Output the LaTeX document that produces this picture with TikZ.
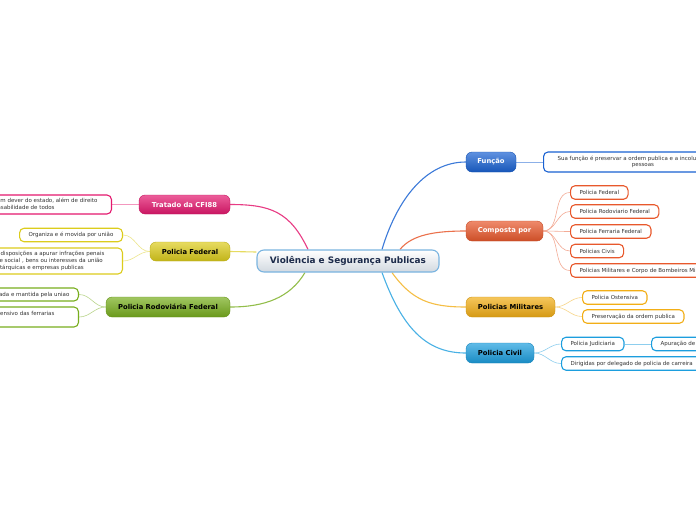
\documentclass[tikz,border=0pt]{standalone}
\usepackage{fontspec}
\setmainfont{DejaVu Sans}
\usetikzlibrary{backgrounds}
\definecolor{rootline}{HTML}{7AB4E0}
\definecolor{rootbot}{HTML}{D2D9E0}
\definecolor{roottext}{HTML}{1C2B4A}
\definecolor{fblue}{HTML}{1A62D2}
\definecolor{corange}{HTML}{E8582C}
\definecolor{mgold}{HTML}{F2AE16}
\definecolor{ccyan}{HTML}{1C9EDE}
\definecolor{tpink}{HTML}{E4186E}
\definecolor{pyellow}{HTML}{DCCC1C}
\definecolor{rgreen}{HTML}{78AE1E}
\definecolor{leaftext}{HTML}{333333}
\begin{document}
\begin{tikzpicture}[x=1pt,y=-1pt,
  rootbox/.style={rounded corners=7pt, draw=rootline, line width=1.1pt, top color=white, bottom color=rootbot,
    minimum width=182pt, minimum height=22pt, inner sep=0pt, text=roottext,
    font=\fontsize{8.9}{10}\selectfont\bfseries},
  branch/.style 2 args={rounded corners=6pt, draw=#1!85!black, line width=0.4pt,
    top color=#1!70!white, bottom color=#1!88!black, text=#2, minimum height=20pt, inner sep=0pt,
    font=\fontsize{6.8}{8}\selectfont\bfseries},
  leaf/.style={rounded corners=4.5pt, draw=#1, line width=1.1pt, fill=white, text=leaftext,
    font=\fontsize{5.5}{6.7}\selectfont, inner xsep=9pt, inner ysep=0pt, minimum height=13.5pt, align=center},
  mainconn/.style={draw=#1, line width=1.1pt},
  subconn/.style={draw=#1, line width=0.6pt}
]
\useasboundingbox (0,0) rectangle (696,520);

% central
\node[rootbox] (c) at (348,261) {Violência e Segurança Publicas};

% branches right
\node[branch={fblue}{white}, minimum width=50pt] (fun) at (491,162) {Função};
\node[branch={corange}{white}, minimum width=77pt] (comp) at (504.5,231) {Composta por};
\node[branch={mgold}{black}, minimum width=89pt] (mil) at (510.5,307) {Policias Militares};
\node[branch={ccyan}{black}, minimum width=68pt] (civ) at (500,353) {Policia Civil};
% branches left
\node[branch={tpink}{white}, minimum width=91pt, minimum height=19pt] (trat) at (184.5,204.5) {Tratado da CFI88};
\node[branch={pyellow}{black}, minimum width=80pt, minimum height=19pt] (pf) at (190,251.5) {Policia Federal};
\node[branch={rgreen}{black}, minimum width=124pt] (prf) at (168,307) {Policia Rodoviária Federal};

% leaves right
\node[leaf=fblue, anchor=west, inner xsep=14pt, minimum height=20pt] (fun1) at (543,162)
  {Sua função é preservar a ordem publica e a incolumidade das\\pessoas};
\node[leaf=corange, anchor=west] (comp1) at (570,192.5) {Policia Federal};
\node[leaf=corange, anchor=west] (comp2) at (570,211.5) {Policia Rodoviario Federal};
\node[leaf=corange, anchor=west] (comp3) at (570,231.5) {Policia Ferraria Federal};
\node[leaf=corange, anchor=west] (comp4) at (570,251) {Policias Civis};
\node[leaf=corange, anchor=west] (comp5) at (570,270.5) {Policias Militares e Corpo de Bombeiros Militares};
\node[leaf=mgold, anchor=west] (mil1) at (582,297.5) {Policia Ostensiva};
\node[leaf=mgold, anchor=west] (mil2) at (582,316.5) {Preservação da ordem publica};
\node[leaf=ccyan, anchor=west] (civ1) at (561,344) {Policia Judiciaria};
\node[leaf=ccyan, anchor=west] (civ1a) at (651,344) {Apuração de infrações penais};
\node[leaf=ccyan, anchor=west] (civ2) at (561,363.5) {Dirigidas por delegado de policia de carreira};

% leaves left
\node[leaf=tpink, anchor=east, inner xsep=14pt, minimum height=19pt] (trat1) at (112,204.5)
  {A segurança publica é um dever do estado, além de direito\\e responsabilidade de todos};
\node[leaf=pyellow, anchor=east] (pf1) at (123,235) {Organiza e é movida por união};
\node[leaf=pyellow, anchor=east, inner xsep=18pt, minimum height=26pt] (pf2) at (123,261)
  {Destina-se, conforme as disposições a apurar infrações penais\\contra a ordem politica e social , bens ou interesses da união\\das entidades autárquicas e empresas publicas};
\node[leaf=rgreen, anchor=east, minimum height=13pt] (prf1) at (79,294.5) {Organizada e mantida pela uniao};
\node[leaf=rgreen, anchor=east, inner xsep=24pt, minimum height=20pt] (prf2) at (79,317)
  {Destina-se ao patrulhamento ostensivo das ferrarias\\federais};

\begin{pgfonlayer}{background}
\fill[white] (0,0) rectangle (696,520);
% main connectors
\draw[mainconn=fblue!85!white] ([xshift=34pt]c.north) .. controls +(15,-50) and +(-40,0) .. (fun.west);
\draw[mainconn=corange!85!white] ([xshift=52pt]c.north) .. controls +(12,-15) and +(-30,0) .. (comp.west);
\draw[mainconn=tpink!85!white] ([xshift=-40pt]c.north) .. controls +(-18,-38) and +(40,0) .. (trat.east);
\draw[mainconn=pyellow!70!white] (pf.east) -- ([yshift=-0.5pt]pf.east -| c.west);
\draw[mainconn=rgreen!80!white] ([xshift=-43pt]c.south) .. controls +(-15,25) and +(35,0) .. (prf.east);
\draw[mainconn=mgold!80!white] ([xshift=44pt]c.south) .. controls +(20,28) and +(-35,0) .. (mil.west);
\draw[mainconn=ccyan!80!white] ([xshift=34pt]c.south) .. controls +(20,55) and +(-40,0) .. (civ.west);
% sub connectors
\draw[subconn=fblue!50!white] (fun.east) -- (fun1.west);
\foreach \n in {comp1,comp2,comp3,comp4,comp5}
  \draw[subconn=corange!50!white] (comp.east) to[out=0,in=180] (\n.west);
\foreach \n in {mil1,mil2}
  \draw[subconn=mgold!50!white] (mil.east) to[out=0,in=180] (\n.west);
\foreach \n in {civ1,civ2}
  \draw[subconn=ccyan!50!white] (civ.east) to[out=0,in=180] (\n.west);
\draw[subconn=ccyan!50!white] (civ1.east) -- (civ1a.west);
\draw[subconn=tpink!45!white] (trat.west) -- (trat1.east);
\foreach \n in {pf1,pf2}
  \draw[subconn=pyellow!50!white] (pf.west) to[out=180,in=0] (\n.east);
\foreach \n in {prf1,prf2}
  \draw[subconn=rgreen!50!white] (prf.west) to[out=180,in=0] (\n.east);
\end{pgfonlayer}
\end{tikzpicture}
\end{document}
